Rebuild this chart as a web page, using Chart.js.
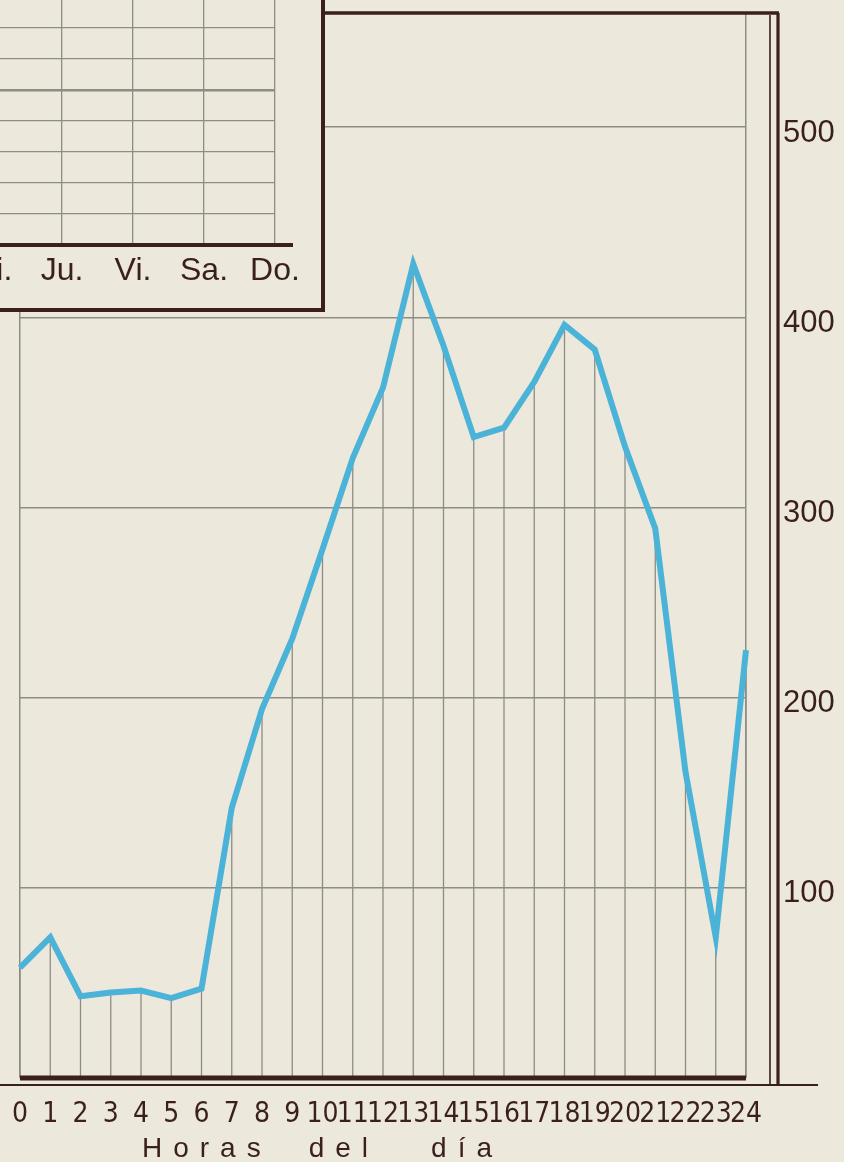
<!DOCTYPE html>
<html>
<head>
<meta charset="utf-8">
<script src="https://cdn.jsdelivr.net/npm/chart.js@4.4.1/dist/chart.umd.min.js"></script>
<style>
  html, body { margin: 0; padding: 0; background: #ece8dc; overflow: hidden; }
  #wrap { position: relative; width: 844px; height: 1162px; overflow: hidden; }
  #mainChart { position: absolute; left: 0; top: 0; }
  #inset {
    position: absolute; left: -200px; top: -10px; width: 525px; height: 322px;
    box-sizing: border-box; background: #ece8dc;
    border-right: 4px solid #3b1f1c; border-bottom: 4px solid #3b1f1c;
  }
</style>
</head>
<body>
<div id="wrap">
  <canvas id="mainChart" width="844" height="1162"></canvas>
  <div id="inset"><canvas id="insetChart" width="521" height="318"></canvas></div>
</div>
<script>
// datos
const horas = ['0','1','2','3','4','5','6','7','8','9','10','11','12','13','14','15','16','17','18','19','20','21','22','23','24'];
const valores = [58, 74, 43, 45, 46, 42, 47, 142, 194, 231, 278, 326, 363, 428, 385, 337, 342, 366, 396, 383, 332, 289, 161, 74, 225];
const yTicks = [100, 200, 300, 400, 500];
const dias = ['Lu.', 'Ma.', 'Mi.', 'Ju.', 'Vi.', 'Sa.', 'Do.'];
const tituloX = ['Horas', 'del', 'día'];

const paper = '#ece8dc';
const dark = '#3b1f1c';
const gray = '#8e8c87';
const blue = '#4cb3d8';

const narrow = '"Liberation Sans Narrow", "DejaVu Sans Condensed", "Liberation Sans", sans-serif';
const sans = '"Liberation Sans", "DejaVu Sans", sans-serif';

// lineas verticales desde cada punto hasta la base
const droplines = {
    id: 'droplines',
    beforeDatasetsDraw(chart) {
        const { ctx, chartArea, scales: { x, y } } = chart;
        ctx.save();
        ctx.strokeStyle = gray;
        ctx.lineWidth = 1.3;
        valores.forEach((v, i) => {
            const px = x.getPixelForValue(i);
            ctx.beginPath();
            ctx.moveTo(px, y.getPixelForValue(v));
            ctx.lineTo(px, chartArea.bottom);
            ctx.stroke();
        });
        ctx.restore();
    }
};

// marco, base gruesa y titulo del eje
const frame = {
    id: 'frame',
    afterDraw(chart) {
        const { ctx, chartArea } = chart;
        const r = chartArea.right;
        ctx.save();
        ctx.strokeStyle = dark;
        ctx.lineCap = 'butt';

        ctx.lineWidth = 3.5;
        ctx.beginPath();
        ctx.moveTo(0, chartArea.top);
        ctx.lineTo(r + 33, chartArea.top);
        ctx.stroke();

        ctx.lineWidth = 1.6;
        ctx.beginPath();
        ctx.moveTo(r + 24, chartArea.top + 2);
        ctx.lineTo(r + 24, chartArea.bottom + 7);
        ctx.stroke();

        ctx.lineWidth = 3.2;
        ctx.beginPath();
        ctx.moveTo(r + 32, chartArea.top);
        ctx.lineTo(r + 32, chartArea.bottom + 7);
        ctx.stroke();

        ctx.lineWidth = 5;
        ctx.beginPath();
        ctx.moveTo(chartArea.left, chartArea.bottom);
        ctx.lineTo(r, chartArea.bottom);
        ctx.stroke();

        ctx.lineWidth = 2;
        ctx.beginPath();
        ctx.moveTo(0, chartArea.bottom + 7);
        ctx.lineTo(r + 72, chartArea.bottom + 7);
        ctx.stroke();

        // titulo espaciado
        ctx.fillStyle = dark;
        ctx.font = '28px ' + sans;
        ctx.textBaseline = 'alphabetic';
        ctx.letterSpacing = '11px';
        let tx = chart.scales.x.getPixelForValue(4) + 1;
        tituloX.forEach((w, i) => {
            ctx.fillText(w, tx, 1157);
            tx += ctx.measureText(w).width + (i === 0 ? 37 : 52);
        });
        ctx.restore();
    }
};

new Chart(document.getElementById('mainChart'), {
    type: 'line',
    data: {
        labels: horas,
        datasets: [{
            data: valores,
            borderColor: blue,
            borderWidth: 6,
            pointRadius: 0,
            tension: 0,
            borderJoinStyle: 'miter'
        }]
    },
    options: {
        responsive: false,
        animation: false,
        layout: { padding: { left: 20, top: 13, right: 0, bottom: 0 } },
        plugins: { legend: { display: false }, tooltip: { enabled: false } },
        scales: {
            x: {
                offset: false,
                grid: {
                    drawTicks: false,
                    color: c => (c.index === 0 || c.index === horas.length - 1) ? gray : 'transparent',
                    lineWidth: 1.5
                },
                border: { display: false },
                ticks: {
                    autoSkip: false, maxRotation: 0, minRotation: 0, padding: 20,
                    color: dark, font: { family: narrow, size: 28 }
                },
                afterFit: s => { s.height = 84; s.paddingLeft = 0; s.paddingRight = 0; }
            },
            y: {
                position: 'right',
                min: 0,
                max: 560,
                afterBuildTicks: s => { s.ticks = yTicks.map(v => ({ value: v })); },
                grid: { drawTicks: false, color: gray, lineWidth: 1.5 },
                border: { display: false },
                ticks: { padding: 37, labelOffset: 6, color: dark, font: { family: sans, size: 31 } },
                afterFit: s => { s.width = 98; s.paddingTop = 0; s.paddingBottom = 0; }
            }
        }
    },
    plugins: [droplines, frame]
});

// recuadro de dias de la semana (cortado a la izquierda)
const insetBase = {
    id: 'insetBase',
    afterDraw(chart) {
        const { ctx, chartArea } = chart;
        ctx.save();
        ctx.strokeStyle = dark;
        ctx.lineWidth = 4;
        ctx.beginPath();
        ctx.moveTo(0, chartArea.bottom);
        ctx.lineTo(chartArea.right + 18, chartArea.bottom);
        ctx.stroke();
        ctx.restore();
    }
};

new Chart(document.getElementById('insetChart'), {
    type: 'line',
    data: { labels: dias, datasets: [] },
    options: {
        responsive: false,
        animation: false,
        layout: { padding: { left: 49, right: 46, top: 7, bottom: 0 } },
        plugins: { legend: { display: false }, tooltip: { enabled: false } },
        scales: {
            x: {
                offset: false,
                grid: { drawTicks: false, color: gray, lineWidth: 1.3 },
                border: { display: false },
                ticks: { autoSkip: false, maxRotation: 0, padding: 7, color: dark, font: { family: sans, size: 32 } },
                afterFit: s => { s.height = 63; s.paddingLeft = 0; s.paddingRight = 0; }
            },
            y: {
                min: 0,
                max: 8,
                ticks: { display: false, stepSize: 1 },
                grid: {
                    drawTicks: false,
                    color: c => c.tick.value === 0 ? 'transparent' : gray,
                    lineWidth: c => c.tick.value === 5 ? 2.4 : 1.3
                },
                border: { display: false },
                afterFit: s => { s.width = 0; s.paddingTop = 0; s.paddingBottom = 0; }
            }
        }
    },
    plugins: [insetBase]
});
</script>
</body>
</html>
